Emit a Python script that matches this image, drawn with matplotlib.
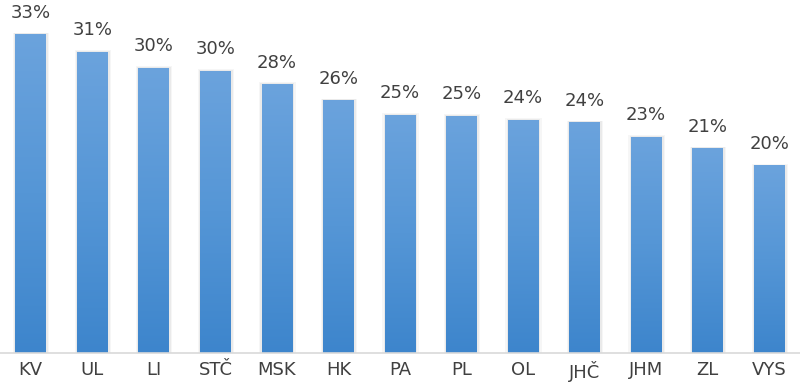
import matplotlib
matplotlib.use("Agg")
import matplotlib.pyplot as plt
import numpy as np
from matplotlib.colors import LinearSegmentedColormap

categories = ["KV", "UL", "LI", "STČ", "MSK", "HK", "PA", "PL", "OL", "JHČ", "JHM", "ZL", "VYS"]
values = [33.3, 31.5, 29.8, 29.5, 28.1, 26.4, 24.9, 24.8, 24.4, 24.1, 22.6, 21.4, 19.6]
labels = ["33%", "31%", "30%", "30%", "28%", "26%", "25%", "25%", "24%", "24%", "23%", "21%", "20%"]

fig = plt.figure(figsize=(8.0, 3.84), dpi=100)
ax = fig.add_axes([0.0, 1 - 353/384, 1.0, 353/384])
x = np.arange(len(categories))
width = 0.5
bars = ax.bar(x, values, width=width, color="none", edgecolor="none", zorder=3)

cmap = LinearSegmentedColormap.from_list("g", ["#3d85cc", "#5596d6", "#6ba3dd"])
grad = np.linspace(0, 1, 256).reshape(-1, 1)
for b in bars:
    x0, y0 = b.get_x(), b.get_y()
    w, h = b.get_width(), b.get_height()
    # soft shadow
    for k, a in [(0.045, 0.10), (0.025, 0.16)]:
        ax.bar(x0 + w/2 + 0.008, h + k * 4, width=w + 2 * k, bottom=0, color="#b0b0b0",
               alpha=a, zorder=2, linewidth=0)
    im = ax.imshow(grad, extent=[x0, x0 + w, y0, y0 + h], origin="lower", cmap=cmap,
                   aspect="auto", zorder=4)
    im.set_clip_path(b)

for xi, v, lab in zip(x, values, labels):
    ax.text(xi, v + 1.3, lab, ha="center", va="bottom", fontsize=13, color="#404040")

ax.set_xlim(-0.5, len(categories) - 0.5)
ax.set_ylim(0, 36.9)
ax.set_xticks(x)
ax.set_xticklabels(categories, fontsize=13, color="#404040")
ax.tick_params(axis="x", length=0, pad=6)
ax.set_yticks([])
for s in ["top", "left", "right"]:
    ax.spines[s].set_visible(False)
ax.spines["bottom"].set_color("#d9d9d9")
ax.spines["bottom"].set_linewidth(1.2)
ax.spines["bottom"].set_zorder(5)
fig.savefig("out.png", dpi=100)
